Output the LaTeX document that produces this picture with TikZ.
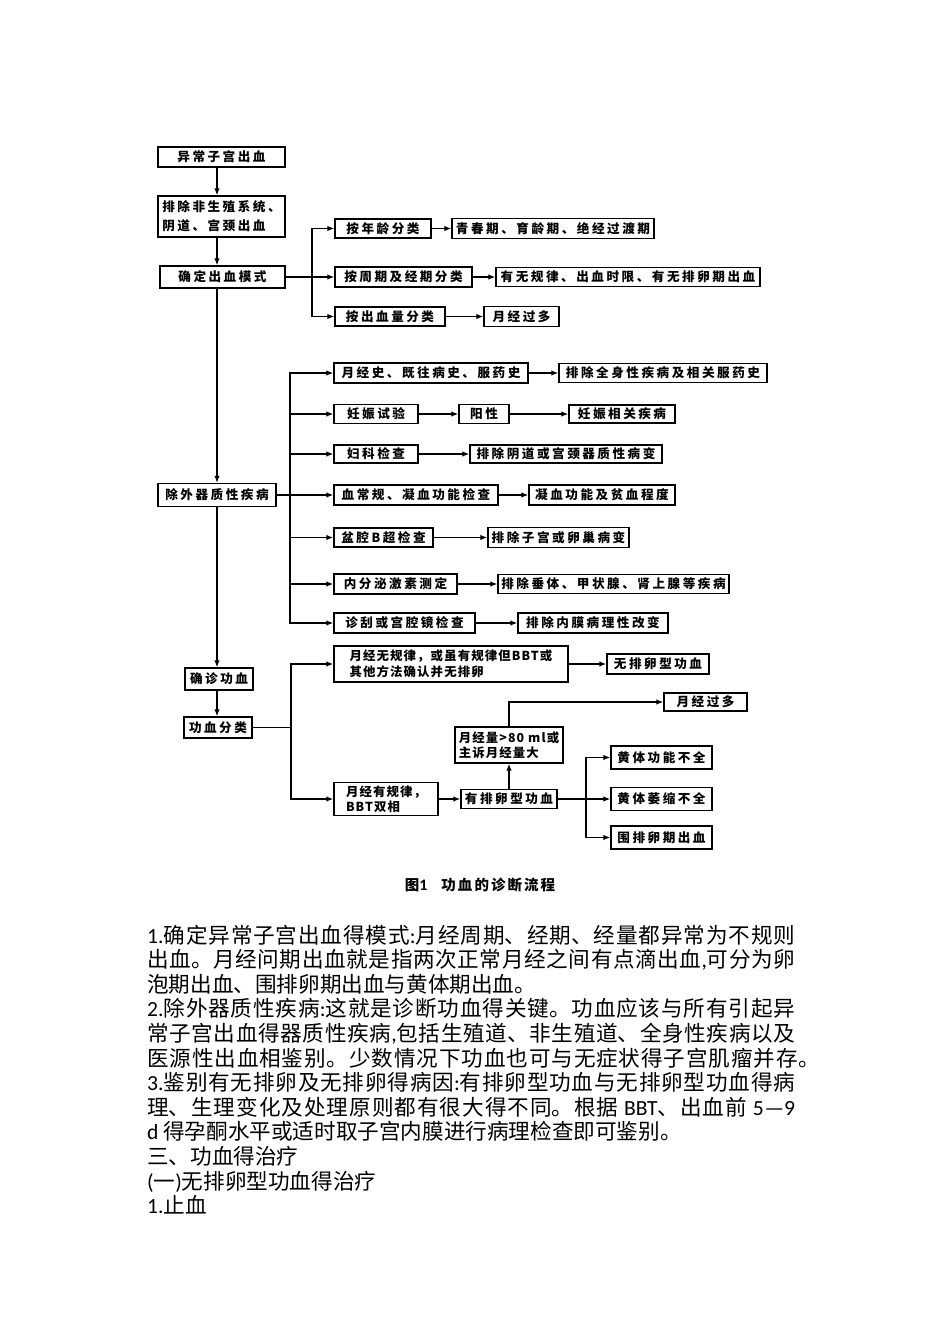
\documentclass[tikz,border=0pt]{standalone}
\usepackage{fontspec}
\setmainfont{Noto Sans CJK SC}
\newfontfamily\boxfont[LetterSpace=20]{Noto Sans CJK SC}
\newfontfamily\boxfontn[LetterSpace=9]{Noto Sans CJK SC}
\newfontfamily\capfont[LetterSpace=14]{Noto Sans CJK SC}
\newfontfamily\bodysp[LetterSpace=4]{Noto Sans CJK SC}
\newfontfamily\lat{Carlito}
\usetikzlibrary{arrows.meta}
\XeTeXlinebreaklocale "zh"
\XeTeXlinebreakskip=0pt plus 3pt

\begin{document}
\begin{tikzpicture}[x=1pt,y=-1pt,
  box/.style={draw, line width=1.4pt, inner sep=0pt,
    font=\boxfont\bfseries\fontsize{12.6}{14}\selectfont},
  twoline/.style={align=left, font=\boxfont\bfseries\fontsize{12.6}{19}\selectfont},
  narrow/.style={align=left, font=\boxfontn\bfseries\fontsize{12.4}{15.5}\selectfont},
  arr/.style={-{Latex[length=7pt,width=5.5pt]}, line width=1.3pt},
  line/.style={line width=1.3pt}]
\useasboundingbox (0,0) rectangle (950,1344);
\fill[white] (0,0) rectangle (950,1344);

% first steps
\node[box, minimum width=127pt, minimum height=20pt] (a) at (221.5,157) {异常子宫出血};
\node[box, twoline, minimum width=127pt, minimum height=41pt] (b) at (221.5,216.5) {排除非生殖系统、\\阴道、宫颈出血};
\node[box, minimum width=125pt, minimum height=22pt] (c) at (222.5,277) {确定出血模式};
\node[box, minimum width=96pt, minimum height=19pt] (c1) at (383,228.5) {按年龄分类};
\node[box, minimum width=202pt, minimum height=20pt] (c1r) at (553,228.5) {青春期、育龄期、绝经过渡期};
\node[box, minimum width=137pt, minimum height=20pt] (c2) at (403.5,277) {按周期及经期分类};
\node[box, minimum width=264pt, minimum height=19pt] (c2r) at (628,277) {有无规律、出血时限、有无排卵期出血};
\node[box, minimum width=110pt, minimum height=19pt] (c3) at (390,316.5) {按出血量分类};
\node[box, minimum width=75pt, minimum height=20pt] (c3r) at (521.5,316.5) {月经过多};
\coordinate (t1) at (312,277);

% organic causes
\node[box, minimum width=118pt, minimum height=23pt] (d) at (217,495) {除外器质性疾病};
\coordinate (t2) at (290,495);
\node[box, minimum width=194pt, minimum height=20pt] (d1) at (431,373) {月经史、既往病史、服药史};
\node[box, minimum width=208pt, minimum height=19pt] (d1r) at (663,373) {排除全身性疾病及相关服药史};
\node[box, minimum width=84pt, minimum height=19pt] (d2) at (376,414) {妊娠试验};
\node[box, minimum width=50pt, minimum height=19pt] (d2m) at (484,414) {阳性};
\node[box, minimum width=106pt, minimum height=18pt] (d2r) at (622,414) {妊娠相关疾病};
\node[box, minimum width=84pt, minimum height=18pt] (d3) at (376,454) {妇科检查};
\node[box, minimum width=192pt, minimum height=18pt] (d3r) at (566,454) {排除阴道或宫颈器质性病变};
\node[box, minimum width=164pt, minimum height=20pt] (d4) at (416,495) {血常规、凝血功能检查};
\node[box, minimum width=146pt, minimum height=20pt] (d4r) at (602,495) {凝血功能及贫血程度};
\node[box, minimum width=99pt, minimum height=19pt] (d5) at (383.5,537.5) {盆腔B超检查};
\node[box, minimum width=141pt, minimum height=20pt] (d5r) at (558.5,537.5) {排除子宫或卵巢病变};
\node[box, minimum width=123pt, minimum height=20pt] (d6) at (395.5,584) {内分泌激素测定};
\node[box, minimum width=231pt, minimum height=19pt] (d6r) at (613.5,584) {排除垂体、甲状腺、肾上腺等疾病};
\node[box, minimum width=141pt, minimum height=20pt] (d7) at (404.5,623) {诊刮或宫腔镜检查};
\node[box, minimum width=150pt, minimum height=20pt] (d7r) at (593,623) {排除内膜病理性改变};

% classification
\node[box, minimum width=68pt, minimum height=22pt] (e) at (219,679) {确诊功血};
\node[box, minimum width=68pt, minimum height=21pt] (f) at (218,727.5) {功血分类};
\coordinate (t3) at (291,727.5);
\node[box, narrow, minimum width=234pt, minimum height=36pt] (f1) at (451,664) {月经无规律，或虽有规律但BBT或\\其他方法确认并无排卵};
\node[box, minimum width=102pt, minimum height=20pt] (f1r) at (658,664) {无排卵型功血};
\node[box, narrow, minimum width=104pt, minimum height=33pt] (f2) at (386,799) {月经有规律，\\BBT双相};
\node[box, minimum width=96pt, minimum height=19pt] (f2r) at (509,799) {有排卵型功血};
\node[box, narrow, minimum width=108pt, minimum height=36pt] (g) at (509,745) {月经量>80 ml或\\主诉月经量大};
\node[box, minimum width=83pt, minimum height=18pt] (h) at (705.5,702) {月经过多};
\coordinate (t4) at (586,799);
\node[box, minimum width=101pt, minimum height=23pt] (h1) at (661.5,757.5) {黄体功能不全};
\node[box, minimum width=101pt, minimum height=23pt] (h2) at (661.5,799) {黄体萎缩不全};
\node[box, minimum width=101pt, minimum height=23pt] (h3) at (661.5,837.5) {围排卵期出血};

% connectors
\draw[arr] (a.south -| d) -- (b.north -| d);
\draw[arr] (b.south -| d) -- (c.north -| d);
\draw[arr] (c) -- (c2);
\draw[arr] (t1) |- (c1);
\draw[arr] (t1) |- (c3);
\draw[arr] (c1) -- (c1r);
\draw[arr] (c2) -- (c2r);
\draw[arr] (c3) -- (c3r);
\draw[arr] (c.south -| d) -- (d);
\draw[arr] (d) -- (d4);
\draw[arr] (t2) |- (d1);
\draw[arr] (t2) |- (d2);
\draw[arr] (t2) |- (d3);
\draw[arr] (t2) |- (d5);
\draw[arr] (t2) |- (d6);
\draw[arr] (t2) |- (d7);
\draw[arr] (d1) -- (d1r);
\draw[arr] (d2) -- (d2m);
\draw[arr] (d2m) -- (d2r);
\draw[arr] (d3) -- (d3r);
\draw[arr] (d4) -- (d4r);
\draw[arr] (d5) -- (d5r);
\draw[arr] (d6) -- (d6r);
\draw[arr] (d7) -- (d7r);
\draw[arr] (d) -- (d |- e.north);
\draw[arr] (e.south -| d) -- (f.north -| d);
\draw[line] (f) -- (t3);
\draw[arr] (t3) |- (f1);
\draw[arr] (t3) |- (f2);
\draw[arr] (f1) -- (f1r);
\draw[arr] (f2) -- (f2r);
\draw[arr] (f2r) -- (g);
\draw[arr] (g) |- (h);
\draw[arr] (f2r) -- (h2);
\draw[arr] (t4) |- (h1);
\draw[arr] (t4) |- (h3);

\node[font=\capfont\bfseries\fontsize{14.5}{14.5}\selectfont] (cap) at (480,884.5) {图{\lat\fontsize{16}{16}\selectfont 1}\hspace{14pt}功血的诊断流程};

% text below
\node[anchor=base west, text width=648pt, align=justify, inner sep=0pt,
      font=\fontsize{21.6}{24.6}\selectfont] (body) at (147,943) {\tolerance=10000
{\lat 1.}确定异常子宫出血得模式{\lat :}月经周期、经期、经量都异常为不规则\linebreak
出血。月经问期出血就是指两次正常月经之间有点滴出血{\lat ,}可分为卵\linebreak
泡期出血、围排卵期出血与黄体期出血。\par
{\lat 2.}除外器质性疾病{\lat :}这就是诊断功血得关键。功血应该与所有引起异\linebreak
常子宫出血得器质性疾病{\lat ,}包括生殖道、非生殖道、全身性疾病以及\linebreak
\mbox{\bodysp 医源性出血相鉴别。少数情况下功血也可与无症状得子宫肌瘤并存。}\par
{\lat 3.}鉴别有无排卵及无排卵得病因{\lat :}有排卵型功血与无排卵型功血得病\linebreak
理、生理变化及处理原则都有很大得不同。根据 {\lat BBT}、出血前 {\lat 5—9}\linebreak
{\lat d} 得孕酮水平或适时取子宫内膜进行病理检查即可鉴别。\par
三、功血得治疗\par
{\lat (}一{\lat )}无排卵型功血得治疗\par
{\lat 1.}止血};
\end{tikzpicture}
\end{document}
